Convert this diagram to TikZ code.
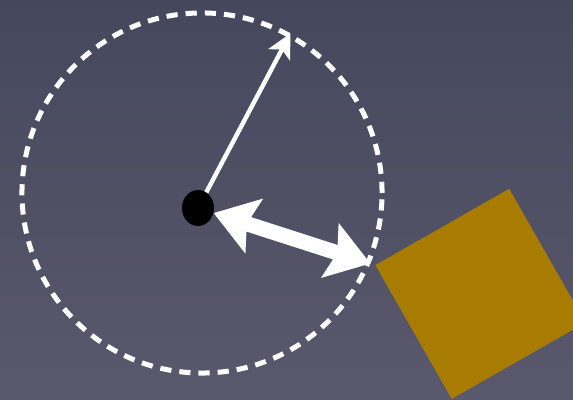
\documentclass[tikz,border=0pt]{standalone}
\usepackage{tikz}
\usetikzlibrary{arrows.meta,positioning,shapes.geometric}

\definecolor{slatetop}{RGB}{69,72,93}
\definecolor{slatebot}{RGB}{90,88,108}
\definecolor{gold}{RGB}{168,124,0}

\begin{document}
\begin{tikzpicture}[
  x=0.025cm,y=0.025cm,
  reach/.style={circle, draw=white, line width=0.125cm, dash pattern=on 0.28cm off 0.2cm, minimum size=9cm, inner sep=0pt},
  pivot/.style={ellipse, fill=black, minimum width=0.8cm, minimum height=0.9cm, inner sep=0pt},
  block/.style={rectangle, fill=gold, minimum size=3.85cm, inner sep=0pt},
  dir/.style={-{Stealth[length=0.6cm, width=0.6cm, inset=0.14cm]}, white, line width=0.11cm},
  push/.style={{Stealth[length=1.05cm, width=1.4cm, inset=0.18cm]}-{Stealth[length=1.05cm, width=1.4cm, inset=0.18cm]}, white, line width=0.38cm}
]
\useasboundingbox (0,0) rectangle (573,400);
\clip (0,0) rectangle (573,400);
\shade[top color=slatetop, bottom color=slatebot] (0,0) rectangle (573,400);
\node[reach] (range) at (202,207) {};
\node[block, rotate=29.7, anchor=north west] (body) at (375,135) {};
\node[pivot] (center) at (198,192) {};
\draw[dir] (center) -- (range.61);
\draw[push, shorten >=0.12cm] (center) -- (body.north west);
\end{tikzpicture}
\end{document}
